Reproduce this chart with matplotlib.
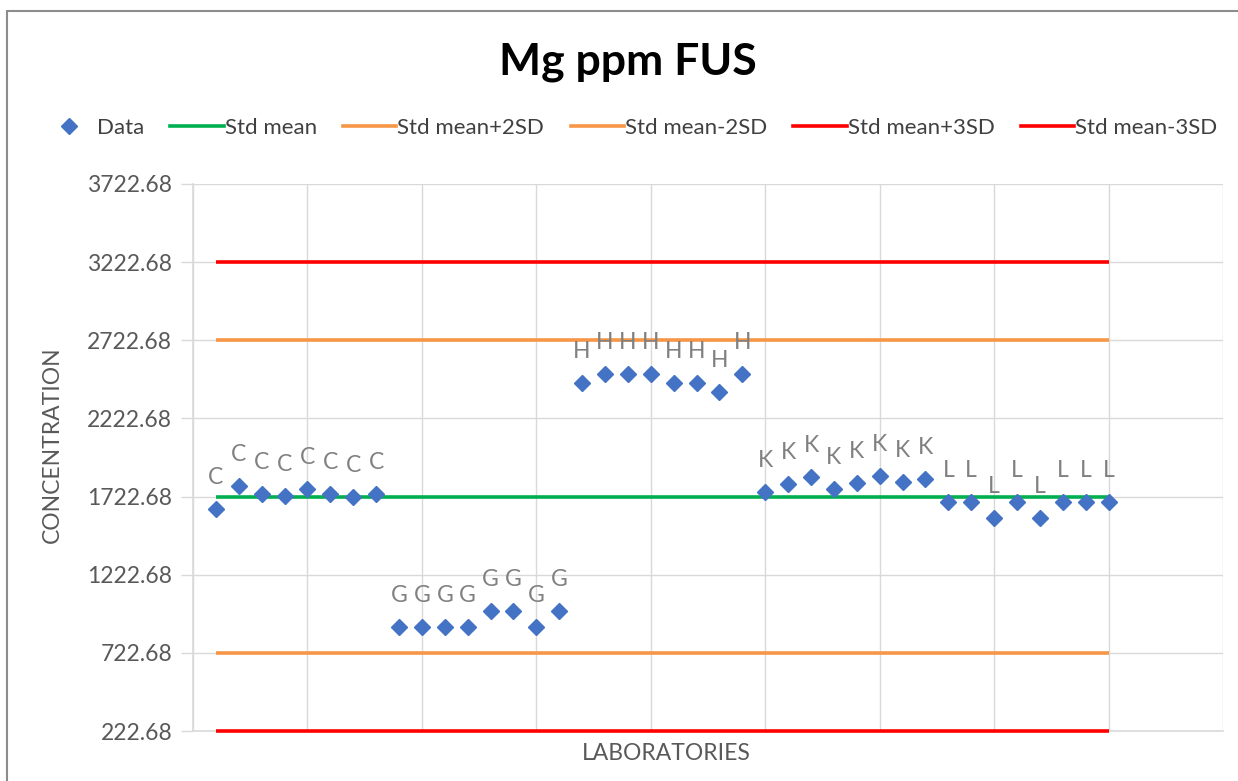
import matplotlib
matplotlib.use("Agg")
import matplotlib.pyplot as plt
from matplotlib.lines import Line2D
from matplotlib.patches import Rectangle

plt.rcParams['font.family'] = ['Lato', 'DejaVu Sans']

# ---- data ----
labs = ['C'] * 8 + ['G'] * 8 + ['H'] * 8 + ['K'] * 8 + ['L'] * 8
values = [1646, 1793, 1736, 1729, 1768, 1736, 1720, 1740,
          885, 885, 885, 885, 988, 988, 885, 988,
          2451, 2509, 2509, 2509, 2451, 2451, 2389, 2509,
          1755, 1806, 1845, 1770, 1812, 1853, 1819, 1832,
          1689, 1689, 1586, 1689, 1586, 1689, 1689, 1689]
std_mean = 1722.68
sd = 500.0
yticks = [222.68, 722.68, 1222.68, 1722.68, 2222.68, 2722.68, 3222.68, 3722.68]
title = "Mg ppm FUS"

x = list(range(1, len(values) + 1))

W, H = 1238, 781
fig = plt.figure(figsize=(W / 100, H / 100), dpi=100)
fig.patch.set_facecolor('white')

# outer border of chart area
fig.add_artist(Rectangle((7 / W, -0.01), 1.2, 1 - 11 / H + 0.01, transform=fig.transFigure,
                         fill=False, edgecolor='#8c8c8c', linewidth=1.5))

ax = fig.add_axes([193 / W, 1 - 731 / H, (1223 - 193) / W, (731 - 184) / H])
ax.set_xlim(0, 45)
ax.set_ylim(yticks[0], yticks[-1])

ax.set_yticks(yticks)
ax.set_yticklabels([f"{v:.2f}" for v in yticks])
ax.set_xticks(range(0, 46, 5))
ax.set_xticklabels([])
ax.tick_params(axis='x', length=0)
ax.tick_params(axis='y', length=9, width=1, color='#d9d9d9', labelsize=16.5,
               labelcolor='#595959', pad=6)
ax.grid(True, color='#d9d9d9', linewidth=1)
ax.set_axisbelow(True)
for s in ['top', 'right']:
    ax.spines[s].set_visible(False)
for s in ['left', 'bottom']:
    ax.spines[s].set_color('#d9d9d9')
    ax.spines[s].set_linewidth(1.2)

xs = [x[0], x[-1]]
lw = 2.6
ax.plot(xs, [std_mean] * 2, color='#00b050', lw=lw, solid_capstyle='butt', zorder=3)
ax.plot(xs, [std_mean + 2 * sd] * 2, color='#f79646', lw=lw, solid_capstyle='butt', zorder=3)
ax.plot(xs, [std_mean - 2 * sd] * 2, color='#f79646', lw=lw, solid_capstyle='butt', zorder=3)
ax.plot(xs, [std_mean + 3 * sd] * 2, color='#ff0000', lw=lw, solid_capstyle='butt', zorder=3)
ax.plot(xs, [std_mean - 3 * sd] * 2, color='#ff0000', lw=lw, solid_capstyle='butt', zorder=3, clip_on=False)

ax.plot(x, values, linestyle='none', marker='D', markersize=8.5,
        color='#4472c4', markeredgecolor='#4472c4', zorder=4)

for xi, yi, lab in zip(x, values, labs):
    ax.annotate(lab, (xi, yi), xytext=(0, 18), textcoords='offset points',
                ha='center', va='baseline', fontsize=16.5, color='#808080')

fig.text(666 / W, 1 - 754 / H, 'LABORATORIES', ha='center', va='center',
         fontsize=16.5, color='#595959')
fig.text(52 / W, 1 - 445 / H, 'CONCENTRATION', ha='center', va='center',
         rotation=90, fontsize=16.5, color='#595959')

fig.text(628 / W, 1 - 62 / H, title, ha='center', va='center',
         fontsize=32, fontweight='bold', color='black')

handles = [
    Line2D([], [], linestyle='none', marker='D', markersize=8.5, color='#4472c4'),
    Line2D([], [], color='#00b050', lw=lw),
    Line2D([], [], color='#f79646', lw=lw),
    Line2D([], [], color='#f79646', lw=lw),
    Line2D([], [], color='#ff0000', lw=lw),
    Line2D([], [], color='#ff0000', lw=lw),
]
names = ['Data', 'Std mean', 'Std mean+2SD', 'Std mean-2SD', 'Std mean+3SD', 'Std mean-3SD']
leg = fig.legend(handles, names, loc='center', bbox_to_anchor=(630 / W, 1 - 128 / H),
                 ncol=6, frameon=False, fontsize=16, handlelength=2.4,
                 handletextpad=0.05, columnspacing=1.18, labelcolor='#404040')

fig.savefig('out.png', dpi=100, facecolor='white')
